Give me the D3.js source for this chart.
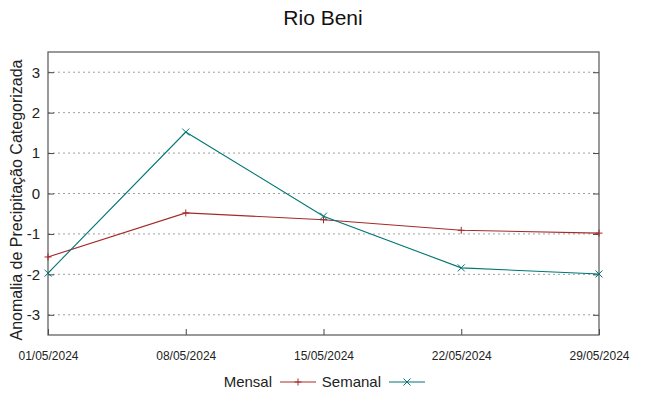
<!DOCTYPE html>
<html>
<head>
<meta charset="utf-8">
<script src="https://cdn.jsdelivr.net/npm/d3@7"></script>
<style>
body { margin: 0; background: #fff; }
text { font-family: "Liberation Sans", Arial, sans-serif; }
</style>
</head>
<body>
<div id="chart"></div>
<script>
var dates = ["01/05/2024", "08/05/2024", "15/05/2024", "22/05/2024", "29/05/2024"];
var mensal = [-1.57, -0.48, -0.65, -0.91, -0.98];
var semanal = [-1.97, 1.52, -0.56, -1.84, -1.99];
var yTicks = [-3, -2, -1, 0, 1, 2, 3];

var width = 648, height = 396;
var plotLeft = 48, plotRight = 599, plotTop = 52, plotBottom = 335;

var parse = d3.timeParse("%d/%m/%Y");

var svg = d3.select("#chart").append("svg")
    .attr("width", width)
    .attr("height", height);

var x = d3.scaleTime()
    .domain([parse(dates[0]), parse(dates[dates.length - 1])])
    .range([plotLeft, plotRight]);

var y = d3.scaleLinear()
    .domain([-3.5, 3.5])
    .range([plotBottom, plotTop]);

// grid
svg.selectAll(".grid")
    .data(yTicks)
    .enter()
    .append("line")
    .attr("x1", plotLeft).attr("x2", plotRight)
    .attr("y1", function (d) { return y(d) })
    .attr("y2", function (d) { return y(d) })
    .style("stroke", "#a0a0a0")
    .style("stroke-width", 1)
    .style("stroke-dasharray", "2,3");

// axes
var yAxis = d3.axisLeft(y).tickValues(yTicks).tickSize(-6).tickPadding(8)
    .tickFormat(function (d) { return String(d) });
var gy = svg.append("g").attr("transform", "translate(" + plotLeft + ",0)").call(yAxis);
gy.select(".domain").remove();
gy.selectAll("line").style("stroke", "#444");
gy.selectAll("text").style("font-size", "15px").style("fill", "#222")
    .style("font-family", "'Liberation Sans', Arial, sans-serif");

var yAxisR = d3.axisRight(y).tickValues(yTicks).tickSize(-6).tickFormat("");
var gyr = svg.append("g").attr("transform", "translate(" + plotRight + ",0)").call(yAxisR);
gyr.select(".domain").remove();
gyr.selectAll("line").style("stroke", "#444");

var xAxis = d3.axisBottom(x)
    .tickValues(dates.map(parse))
    .tickSize(-6)
    .tickPadding(16)
    .tickFormat(d3.timeFormat("%d/%m/%Y"));
var gx = svg.append("g").attr("transform", "translate(0," + plotBottom + ")").call(xAxis);
gx.select(".domain").remove();
gx.selectAll("line").style("stroke", "#444");
gx.selectAll("text").style("font-size", "12px").style("fill", "#222")
    .style("font-family", "'Liberation Sans Narrow', 'Liberation Sans', sans-serif");

// border
svg.append("rect")
    .attr("x", plotLeft).attr("y", plotTop)
    .attr("width", plotRight - plotLeft).attr("height", plotBottom - plotTop)
    .style("fill", "none")
    .style("stroke", "#555")
    .style("stroke-width", 1.2);

var series = [
    { name: "Mensal", values: mensal, color: "#a52a2a", symbol: "plus" },
    { name: "Semanal", values: semanal, color: "#007575", symbol: "cross" }
];

var line = d3.line()
    .x(function (d, i) { return x(parse(dates[i])) })
    .y(function (d) { return y(d) });

function symbolPath(type, cx, cy, s) {
    if (type == "plus")
        return "M" + (cx - s) + "," + cy + "H" + (cx + s) + "M" + cx + "," + (cy - s) + "V" + (cy + s);
    else
        return "M" + (cx - s) + "," + (cy - s) + "L" + (cx + s) + "," + (cy + s) +
            "M" + (cx - s) + "," + (cy + s) + "L" + (cx + s) + "," + (cy - s);
}

series.forEach(function (s) {
    svg.append("path")
        .datum(s.values)
        .attr("d", line)
        .style("fill", "none")
        .style("stroke", s.color)
        .style("stroke-width", 1.1);

    svg.selectAll(".pt-" + s.name)
        .data(s.values)
        .enter()
        .append("path")
        .attr("d", function (d, i) { return symbolPath(s.symbol, x(parse(dates[i])), y(d), 3.5) })
        .style("stroke", s.color)
        .style("stroke-width", 1);
});

// title
svg.append("text")
    .attr("x", 323).attr("y", 25)
    .attr("text-anchor", "middle")
    .style("font-size", "21px")
    .style("fill", "#111")
    .text("Rio Beni");

// y label
svg.append("text")
    .attr("transform", "translate(22,200) rotate(-90)")
    .attr("text-anchor", "middle")
    .style("font-size", "16px")
    .style("fill", "#222")
    .text("Anomalia de Precipitação Categorizada");

// legend
var legendX = [272, 381];
var legend = svg.selectAll(".legend")
    .data(series)
    .enter()
    .append("g")
    .attr("transform", function (d, i) { return "translate(" + legendX[i] + ",382)" });

legend.append("text")
    .attr("text-anchor", "end")
    .attr("y", 5)
    .style("font-size", "15px")
    .style("font-family", "'Liberation Sans Narrow', 'Liberation Sans', sans-serif")
    .style("fill", "#222")
    .text(function (d) { return d.name });

legend.append("line")
    .attr("x1", 8).attr("x2", 44)
    .style("stroke", function (d) { return d.color })
    .style("stroke-width", 1.2);

legend.append("path")
    .attr("d", function (d) { return symbolPath(d.symbol, 26, 0, 3.5) })
    .style("stroke", function (d) { return d.color });
</script>
</body>
</html>
